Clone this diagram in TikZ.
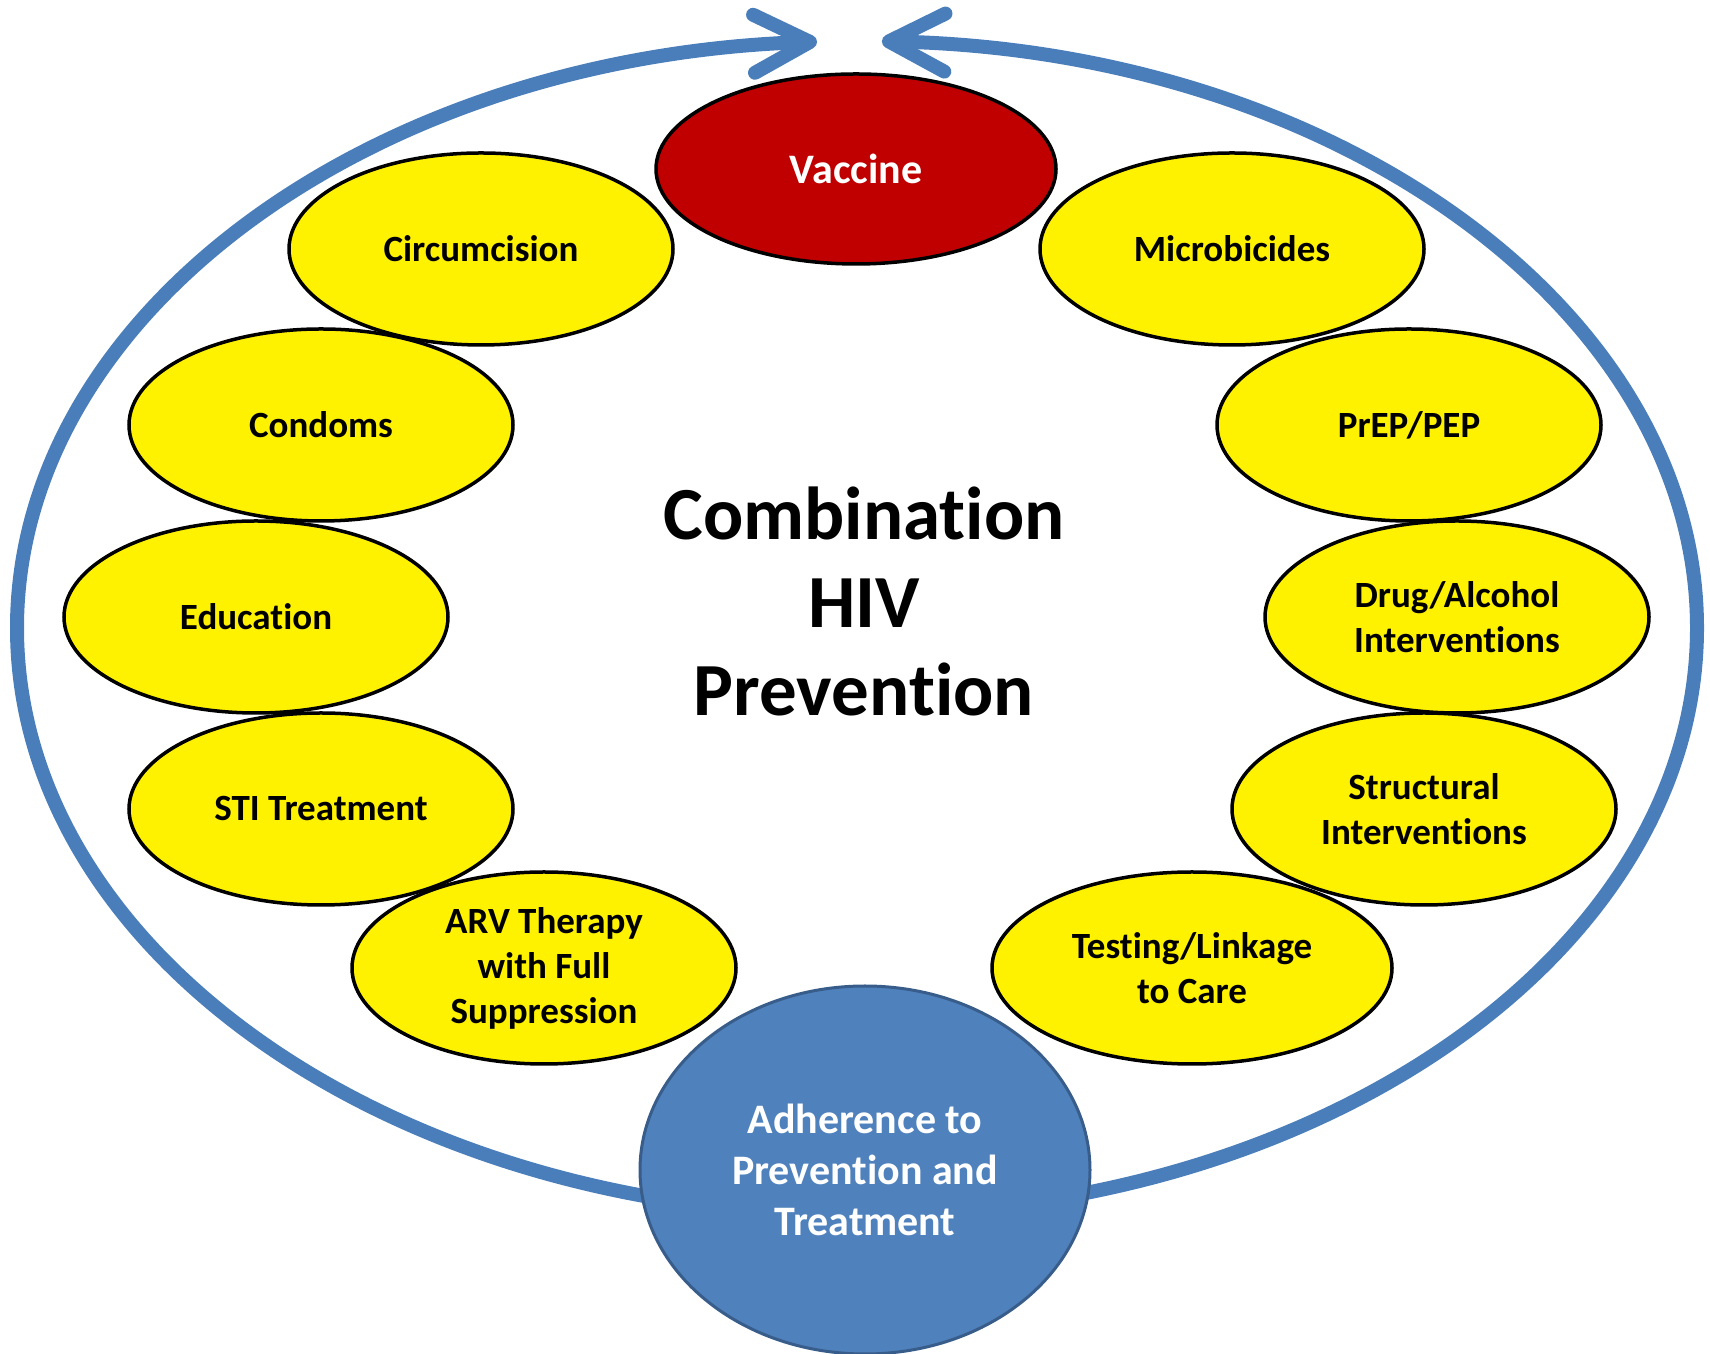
\documentclass[tikz,border=0pt]{standalone}
\usepackage{fontspec}
\setmainfont{Carlito}[Ligatures=NoCommon]
\usepackage{tikz}
\usetikzlibrary{shapes.geometric,arrows.meta,positioning}

\definecolor{ringblue}{HTML}{4A7EBB}
\definecolor{hubblue}{HTML}{4F81BD}
\definecolor{hubedge}{HTML}{385D8A}
\definecolor{vaxred}{HTML}{C00000}

\tikzset{
  method/.style={ellipse, draw=black, line width=3.5pt, fill=yellow,
    minimum width=384pt, minimum height=192pt, inner sep=0pt,
    align=center, font=\bfseries\fontsize{37}{45}\selectfont},
  hub/.style={ellipse, draw=hubedge, line width=3pt, fill=hubblue,
    minimum width=450pt, minimum height=368pt, inner sep=0pt,
    align=center, text=white, font=\bfseries\fontsize{42}{51}\selectfont},
  ring/.style={draw=ringblue, line width=14pt,
    -{Straight Barb[length=56pt,width=58pt,round]}}
}

\begin{document}
\begin{tikzpicture}[x=1pt,y=1pt]
    \useasboundingbox (0,0) rectangle (1710,1354);

    % outer ring, two halves meeting at the top
    \coordinate (ringbottom) at (857,139);
    \draw[ring] (ringbottom) arc[start angle=270, end angle=92.73, x radius=840, y radius=587];
    \draw[ring] (ringbottom) arc[start angle=-90, end angle=88.3, x radius=840, y radius=587];

    % prevention methods
    \node[method, fill=vaxred, text=white, minimum width=400pt, minimum height=190pt,
          font=\bfseries\fontsize{42}{45}\selectfont] (vaccine) at (856,1185) {Vaccine};
    \node[method] (circ) at (481,1105) {Circumcision};
    \node[method] (micro) at (1232,1105) {Microbicides};
    \node[method] (condoms) at (321,929) {Condoms};
    \node[method] (prep) at (1409,929) {PrEP/PEP};
    \node[method] (edu) at (256,737) {Education};
    \node[method] (drug) at (1457,737) {Drug/Alcohol\\Interventions};
    \node[method] (sti) at (321,545) {STI Treatment};
    \node[method] (struct) at (1424,545) {Structural\\Interventions};
    \node[method] (arv) at (544,386) {ARV Therapy\\with Full\\Suppression};
    \node[method, minimum width=400pt] (testing) at (1192,386) {Testing/Linkage\\to Care};

    % centre
    \node[align=center, font=\bfseries\fontsize{75}{88}\selectfont] (title) at (864,753)
        {Combination\\HIV\\Prevention};

    % adherence hub covers the bottom of the ring
    \node[hub] (adherence) at (865,184) {Adherence to\\Prevention and\\Treatment};
\end{tikzpicture}
\end{document}
